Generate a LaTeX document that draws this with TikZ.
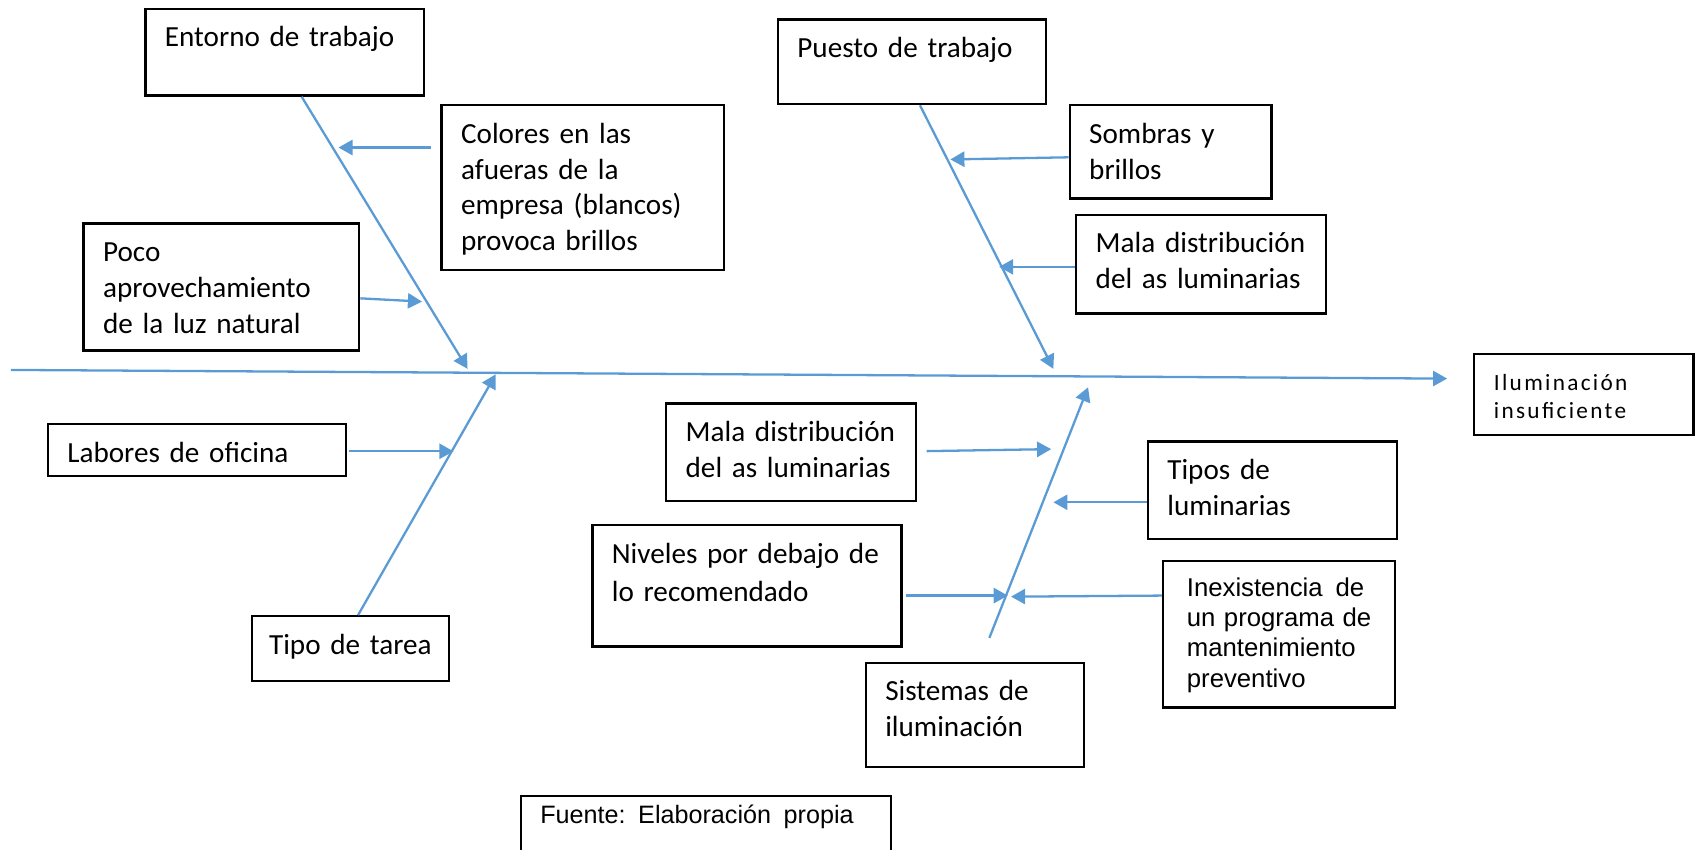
\documentclass[tikz,border=0pt]{standalone}
\usepackage{fontspec}
\setmainfont{Carlito}
\newfontfamily\arialfont{Liberation Sans}
\newfontfamily\spacedfont[LetterSpace=10]{Carlito}
\usepackage{tikz}
\usetikzlibrary{arrows.meta}
\definecolor{ishBlue}{RGB}{91, 155, 213}
\definecolor{ishBorder}{RGB}{0, 0, 0}
\tikzset{
    base/.style={
        rectangle,
        draw=ishBorder,
        line width=1.2pt,
        anchor=north west,
        align=left,
        inner xsep=0.36cm,
        inner ysep=0.2cm
    },
    cause/.style={
        base,
        font=\fontsize{15.3}{18.8}\selectfont,
        text height=0.5cm
    },
    effect/.style={
        base,
        font=\spacedfont\fontsize{12.2}{14.8}\selectfont,
        text height=0.47cm
    },
    note/.style={
        base,
        font=\arialfont\fontsize{13.5}{15.8}\selectfont,
        text height=0.46cm
    },
    bone/.style={
        -{Triangle[length=2.6mm, width=2.8mm]},
        line width=1.2pt,
        color=ishBlue
    }
}

\begin{document}
\begin{tikzpicture}[x=0.2mm, y=-0.2mm]
  \useasboundingbox (0,0) rectangle (1568,783);
  \clip (0,0) rectangle (1568,783);

  % Boxes above the spine
  \node[cause, text width=4.42cm, text depth=0.70cm] (entorno) at (133,7) {Entorno de trabajo};
  \node[cause, text width=4.48cm, text depth=2.14cm] (colores) at (406,96) {Colores en las\\afueras de la\\empresa (blancos)\\provoca brillos};
  \node[cause, text width=4.36cm, text depth=1.44cm] (poco) at (76,205) {Poco\\aprovechamiento\\de la luz natural};
  \node[cause, text width=4.22cm, text depth=0.66cm] (puesto) at (716,17) {Puesto de trabajo};
  \node[cause, text width=3.00cm, text depth=0.82cm] (sombras) at (985,96) {Sombras y\\brillos};
  \node[cause, text width=3.88cm, text depth=0.92cm] (malaA) at (991,197) {Mala distribución\\del as luminarias};

  % Effect
  \node[effect, text width=3.32cm, text depth=0.63cm] (efecto) at (1358,325) {Iluminación\\insuficiente};

  % Boxes below the spine
  \node[cause, text width=4.78cm, text depth=0.06cm] (labores) at (43,390) {Labores de oficina};
  \node[cause, text width=3.00cm, text depth=0.30cm, inner xsep=0.32cm] (tipo) at (231,567) {Tipo de tarea};
  \node[cause, text width=3.88cm, text depth=0.90cm] (malaB) at (613,371) {Mala distribución\\del as luminarias};
  \node[cause, text width=3.88cm, text depth=0.90cm] (tipos) at (1057,406) {Tipos de\\luminarias};
  \node[cause, text width=4.98cm, text depth=1.34cm, font=\fontsize{15.3}{20.2}\selectfont] (niveles) at (545,483) {Niveles por debajo de\\lo recomendado};
  \node[note, text width=3.40cm, text depth=1.84cm, inner xsep=0.44cm] (inex) at (1071,516) {Inexistencia\enspace de\\un\hfill programa\hfill de\\mantenimiento\\preventivo};
  \node[cause, text width=3.30cm, text depth=1.02cm] (sistemas) at (797,610) {Sistemas de\\iluminación};

  % Source
  \node[note, text width=6.10cm, text depth=0.89cm, text height=0.31cm, font=\arialfont\fontsize{13.2}{15.5}\selectfont] (fuente) at (479,733) {Fuente:\enspace Elaboración\enspace propia};

  % Spine
  \coordinate (tail) at (10,341);
  \coordinate (head) at (1334,349);
  \draw[bone] (tail) -- (head);

  % Bones
  \coordinate (s1) at (431,340);
  \coordinate (s2) at (457,345);
  \coordinate (s3) at (971,340);
  \coordinate (s4) at (1003,357);
  \coordinate (b4) at (912,588);
  \draw[bone] ([xshift=0.31cm]entorno.south) -- (s1);
  \draw[bone] ([xshift=0.14cm]tipo.north) -- (s2);
  \draw[bone] ([xshift=0.15cm]puesto.south) -- (s3);
  \draw[bone] (b4) -- (s4);

  % Sub-causes
  \coordinate (t1) at (312,136);
  \coordinate (t2) at (389,278);
  \coordinate (t3) at (418,416);
  \coordinate (t4) at (876,147);
  \coordinate (t5) at (921,246);
  \coordinate (t6) at (969,414);
  \coordinate (t7) at (971,463);
  \coordinate (t8) at (929,549);
  \coordinate (t9) at (932,550);
  \draw[bone, shorten <=0.18cm] (colores.west |- t1) -- (t1);
  \draw[bone] (poco.east |- 0,275) -- (t2);
  \draw[bone, shorten <=0.04cm] (labores.east |- t3) -- (t3);
  \draw[bone] (sombras.west |- 0,145) -- (t4);
  \draw[bone] (malaA.west |- t5) -- (t5);
  \draw[bone, shorten <=0.18cm] (malaB.east |- 0,416) -- (t6);
  \draw[bone] (tipos.west |- t7) -- (t7);
  \draw[bone, shorten <=0.06cm] (niveles.east |- t8) -- (t8);
  \draw[bone] (inex.west |- 0,549) -- (t9);
\end{tikzpicture}
\end{document}
